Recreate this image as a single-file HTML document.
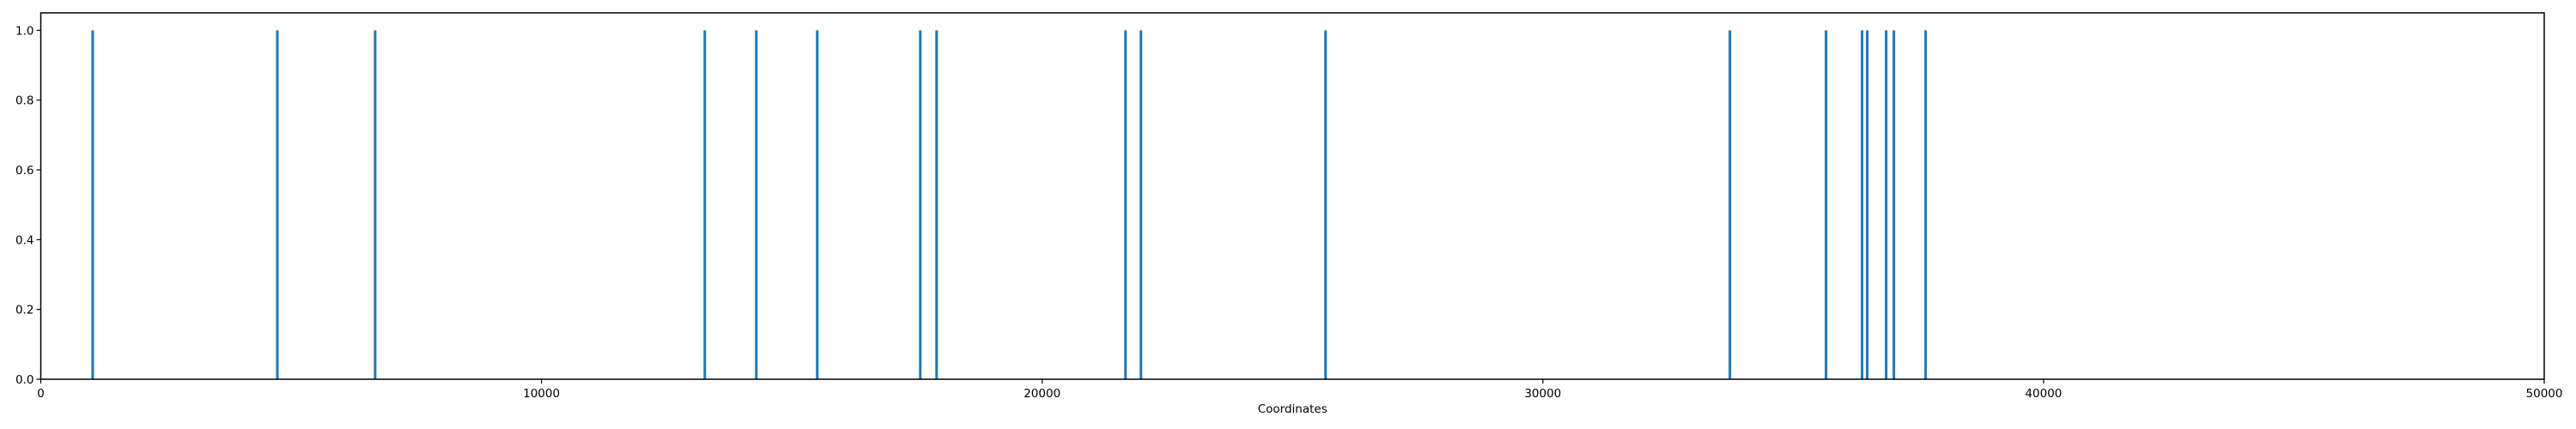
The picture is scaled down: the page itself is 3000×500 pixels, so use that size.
<!DOCTYPE html>
<html><head><meta charset="utf-8"><style>
html,body{margin:0;padding:0;background:#fff;}
svg{display:block;font-family:"DejaVu Sans","Liberation Sans",sans-serif;}
</style></head><body>
<svg id="chart" width="3000" height="500"></svg>
<script>
const positions = [1037, 4724, 6678, 13262, 14291, 15508, 17566, 17892, 21664, 21973, 25660, 33736, 35656, 36376, 36479, 36857, 37011, 37645];
const heights = [1, 1, 1, 1, 1, 1, 1, 1, 1, 1, 1, 1, 1, 1, 1, 1, 1, 1];
const xTicks = [0, 10000, 20000, 30000, 40000, 50000];
const yTicks = [0.0, 0.2, 0.4, 0.6, 0.8, 1.0];

const L = 47.5, R = 2963, T = 15, B = 442;
const xMin = 0, xMax = 50000, yMin = 0, yMax = 1.05;
const sx = v => L + (v - xMin) / (xMax - xMin) * (R - L);
const sy = v => B - (v - yMin) / (yMax - yMin) * (B - T);
const svg = document.getElementById('chart');
const NS = 'http://www.w3.org/2000/svg';
function mk(tag, attrs) { const e = document.createElementNS(NS, tag); for (const k in attrs) e.setAttribute(k, attrs[k]); svg.appendChild(e); return e; }

positions.forEach((p, i) => {
  const l = mk('line', {x1: sx(p), x2: sx(p), y1: sy(0), y2: sy(heights[i]), stroke: '#1f77b4', 'stroke-width': 3});
  
  
});

const frame = mk('rect', {x: L, y: T, width: R - L, height: B - T, fill: 'none', stroke: '#000', 'stroke-width': 1.5});



xTicks.forEach(v => {
  const t = mk('line', {x1: sx(v), x2: sx(v), y1: B, y2: B + 5, stroke: '#000', 'stroke-width': 1.2});
  
  
  const tx = mk('text', {x: sx(v), y: B + 21, 'font-size': 13.5, 'text-anchor': 'middle', fill: '#000'});
  tx.textContent = String(v);
  
  
});
yTicks.forEach(v => {
  const t = mk('line', {x1: L - 5, x2: L, y1: sy(v), y2: sy(v), stroke: '#000', 'stroke-width': 1.2});
  
  
  const tx = mk('text', {x: L - 8, y: sy(v) + 5, 'font-size': 13.5, 'text-anchor': 'end', fill: '#000'});
  tx.textContent = v.toFixed(1);
  
  
});
const xl = mk('text', {x: (L + R) / 2, y: 481, 'font-size': 13.5, 'text-anchor': 'middle', fill: '#000'});
xl.textContent = 'Coordinates';


</script>
</body></html>
